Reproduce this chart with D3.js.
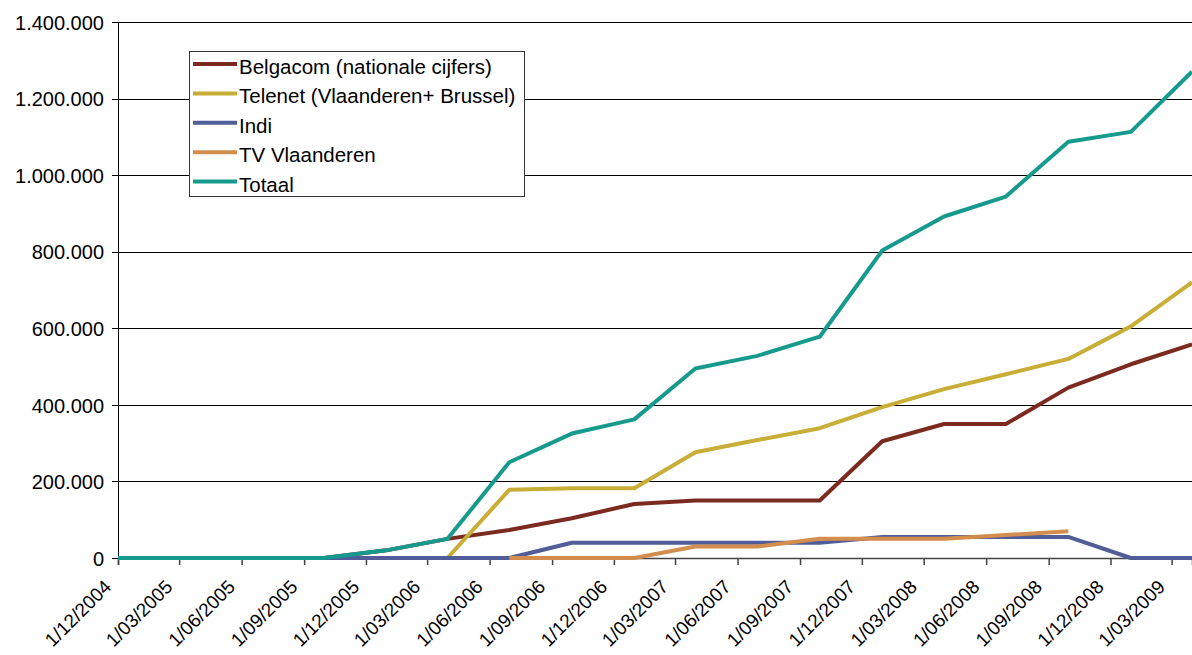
<!DOCTYPE html>
<html>
<head>
<meta charset="utf-8">
<script src="https://cdn.jsdelivr.net/npm/d3@7"></script>
<style>
  body { margin: 0; background: #fff; }
  svg text { font-family: "Liberation Sans", Arial, sans-serif; fill: #000; }
  .grid line { stroke: #000; stroke-width: 1; }
  .grid path { display: none; }
</style>
</head>
<body>
<svg class="chart"></svg>
<script>
// quarter-end dates (first point is the axis start)
var dates = ["2004-12-01", "2004-12-31", "2005-03-31", "2005-06-30", "2005-09-30", "2005-12-31",
  "2006-03-31", "2006-06-30", "2006-09-30", "2006-12-31", "2007-03-31", "2007-06-30",
  "2007-09-30", "2007-12-31", "2008-03-31", "2008-06-30", "2008-09-30", "2008-12-31", "2009-03-31"];

var belgacom = [0, 0, 0, 0, 0, 20000, 50000, 73000, 104000, 141000, 150000, 150000,
  150000, 305000, 350000, 350000, 445000, 506000, 558000];
var telenet = [0, 0, 0, 0, 0, 0, 0, 178000, 182000, 182000, 276000, 308000,
  339000, 394000, 441000, 480000, 520000, 605000, 720000];
var indi = [0, 0, 0, 0, 0, 0, 0, 0, 40000, 40000, 40000, 40000,
  40000, 55000, 55000, 55000, 55000, 0, 0];
var tvVlaanderen = [null, null, null, null, null, null, null, 0, 0, 0, 30000, 30000,
  50000, 50000, 50000, 60000, 70000, null, null];
var totaal = [0, 0, 0, 0, 0, 20000, 50000, 250000, 325000, 362000, 495000, 528000,
  578000, 803000, 892000, 944000, 1087000, 1113000, 1270000];

var seriesNames = ["Belgacom (nationale cijfers)", "Telenet (Vlaanderen+ Brussel)", "Indi", "TV Vlaanderen", "Totaal"];
var seriesValues = [belgacom, telenet, indi, tvVlaanderen, totaal];
var seriesColors = ["#7b2a1f", "#c8ad36", "#515d99", "#d38e4e", "#179a8e"];

var yTicks = [0, 200000, 400000, 600000, 800000, 1000000, 1200000, 1400000];

var margin = {top: 22, right: 0, bottom: 96, left: 118},
  width = 1192 - margin.left - margin.right,
  height = 655 - margin.top - margin.bottom;

var parse = d3.timeParse("%Y-%m-%d");
var nl = d3.formatLocale({decimal: ",", thousands: ".", grouping: [3], currency: ["€", ""]});

var x = d3.scaleTime()
  .domain([parse("2004-12-01"), parse("2009-03-31")])
  .range([0, width]);

var y = d3.scaleLinear()
  .domain([0, 1400000])
  .range([height - 1, 0]);

var svg = d3.select(".chart")
  .attr("width", width + margin.left + margin.right)
  .attr("height", height + margin.top + margin.bottom);

var chart = svg.append("g")
  .attr("transform", "translate(" + margin.left + "," + margin.top + ")");

// horizontal gridlines
chart.append("g")
  .attr("class", "grid")
  .call(d3.axisLeft(y).tickValues(yTicks.slice(1)).tickSize(-width).tickFormat(""))
  .selectAll("line").attr("x1", 0).attr("x2", width).attr("shape-rendering", "crispEdges");

// y axis
var yAxis = chart.append("g")
  .call(d3.axisLeft(y).tickValues(yTicks).tickSize(6).tickPadding(8).tickFormat(nl.format(",")));
yAxis.select(".domain").attr("stroke", "#000").attr("d", "M0," + (height - 1) + "V0").attr("shape-rendering", "crispEdges");
yAxis.selectAll("line").attr("stroke", "#000").attr("shape-rendering", "crispEdges");
yAxis.selectAll("text").style("font-size", "20px").attr("dy", "0.36em");

// x axis, one tick every quarter from 1/12/2004
var xTicks = d3.timeMonth.range(parse("2004-12-01"), parse("2009-03-02"), 3);
var xAxis = chart.append("g")
  .attr("transform", "translate(0," + (height - 1) + ")")
  .call(d3.axisBottom(x).tickValues(xTicks).tickSize(7).tickFormat(d3.timeFormat("%-d/%m/%Y")));
xAxis.select(".domain").attr("stroke", "#444").attr("stroke-width", 1.5);
xAxis.selectAll("line").attr("stroke", "#444").attr("stroke-width", 1.5);
xAxis.selectAll(".tick text")
  .style("font-size", "19px")
  .style("text-anchor", "end")
  .attr("y", 0)
  .attr("dy", 0)
  .attr("transform", "translate(-6,30) rotate(-45)");

// lines
var line = d3.line()
  .defined(function(d) { return d.v !== null; })
  .x(function(d) { return x(d.date); })
  .y(function(d) { return y(d.v); });

seriesValues.forEach(function(vals, i) {
  var pts = vals.map(function(v, j) { return {date: parse(dates[j]), v: v}; });
  chart.append("path")
    .datum(pts)
    .attr("fill", "none")
    .attr("stroke", seriesColors[i])
    .attr("stroke-width", 4)
    .attr("stroke-linejoin", "round")
    .attr("d", line);
});

// legend
var legend = svg.append("g").attr("transform", "translate(189,51)");
legend.append("rect")
  .attr("x", 0.5).attr("y", 0.5)
  .attr("width", 335).attr("height", 145)
  .attr("fill", "#fff").attr("stroke", "#333").attr("stroke-width", 1);

var item = legend.selectAll(".item")
  .data(seriesNames)
  .enter().append("g")
  .attr("transform", function(d, i) { return "translate(0," + (13 + i * 29.4) + ")"; });
item.append("line")
  .attr("x1", 4).attr("x2", 48)
  .attr("stroke", function(d, i) { return seriesColors[i]; })
  .attr("stroke-width", 4);
item.append("text")
  .attr("x", 50)
  .attr("y", 10)
  .style("font-size", "20.5px")
  .text(function(d) { return d; });
</script>
</body>
</html>
